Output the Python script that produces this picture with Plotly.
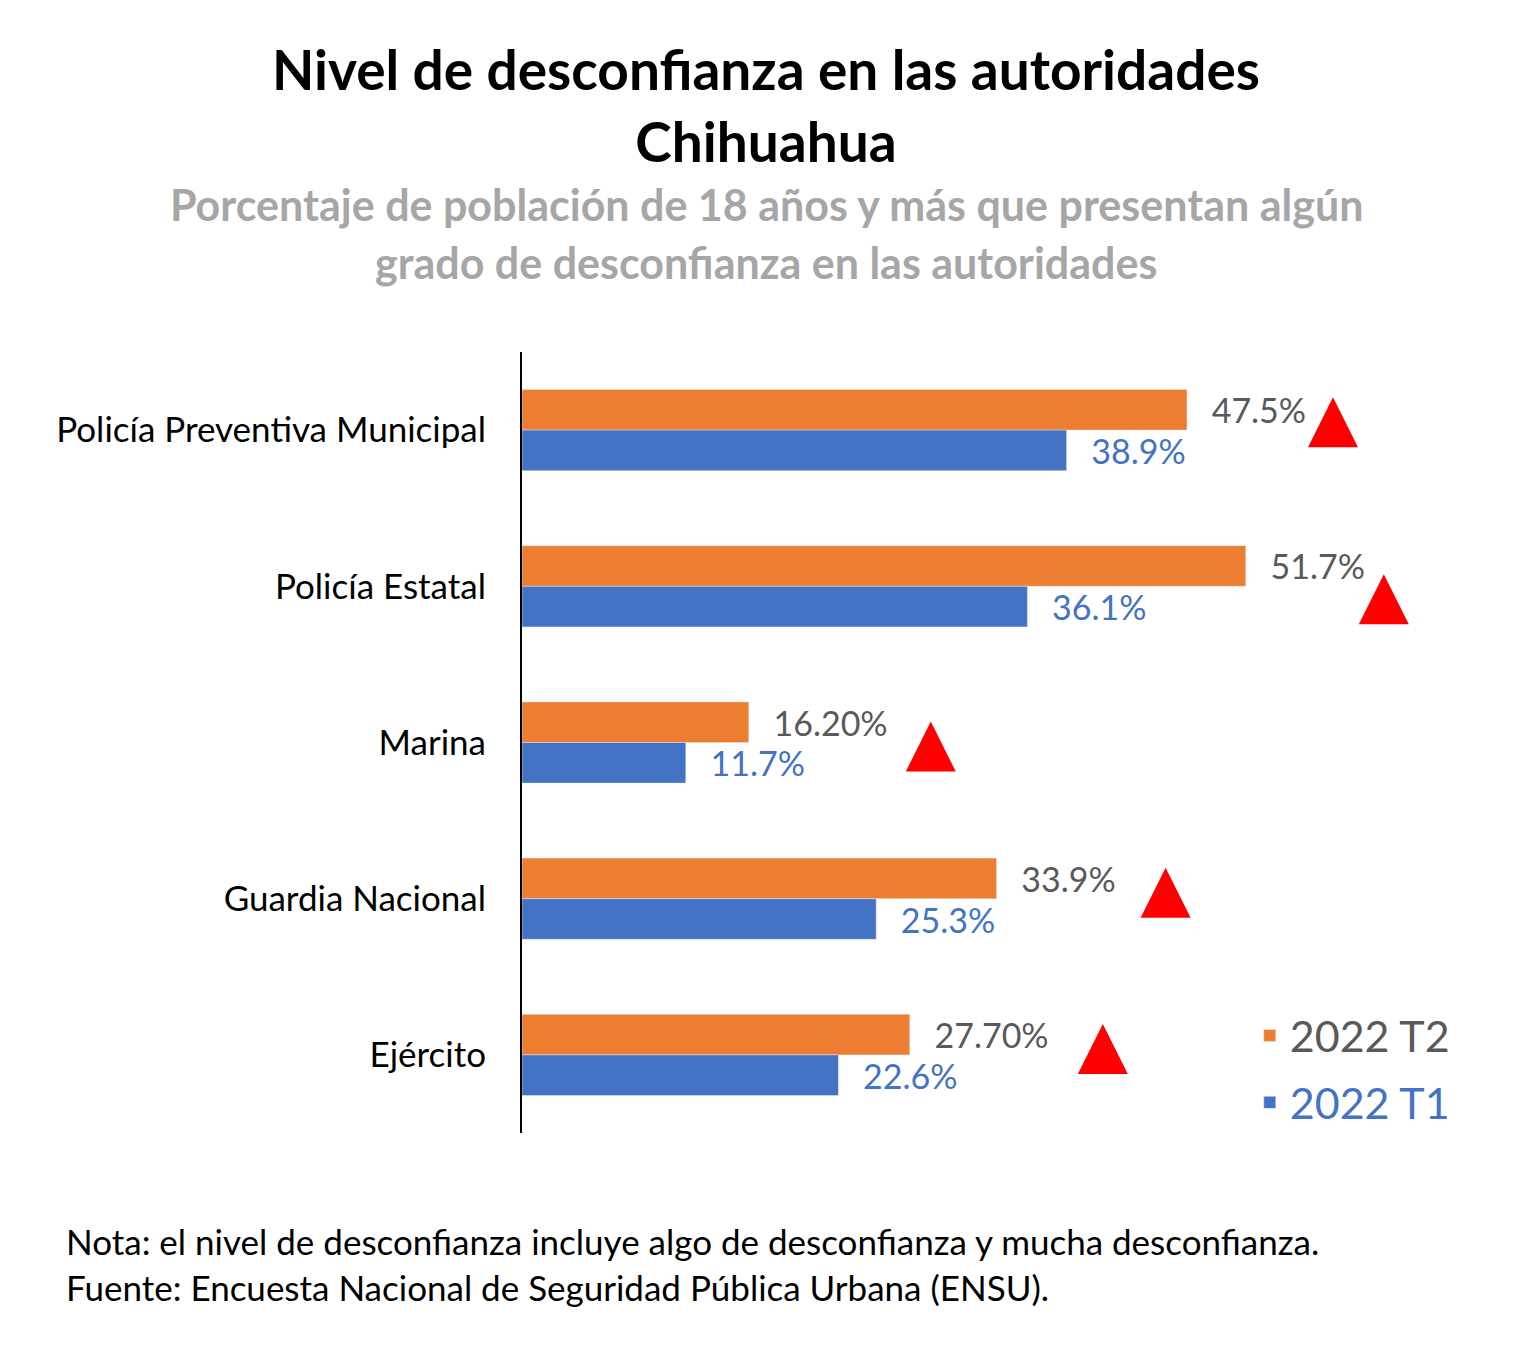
import plotly.graph_objects as go

# ---- data ----
categories = ["Policía Preventiva Municipal", "Policía Estatal", "Marina",
              "Guardia Nacional", "Ejército"]
t2_values = [47.5, 51.7, 16.2, 33.9, 27.7]
t1_values = [38.9, 36.1, 11.7, 25.3, 22.6]
t2_labels = ["47.5%", "51.7%", "16.20%", "33.9%", "27.70%"]
t1_labels = ["38.9%", "36.1%", "11.7%", "25.3%", "22.6%"]
series_names = ["2022 T2", "2022 T1"]

# ---- layout constants (figure pixels; page body adds an 8px offset) ----
W, H = 1532, 1359
ML, MR, MT = 514, 10, 344
PLOT_BOTTOM = 1125
MB = H - PLOT_BOTTOM
PLOT_W = W - ML - MR
PLOT_H = H - MT - MB
PX_PER_UNIT = 14.0
XMAX = PLOT_W / PX_PER_UNIT

ORANGE = "#ED7D31"
BLUE = "#4472C4"
GRAY = "#595959"
FONT = "Lato"

ypos = list(range(len(categories)))
pad = "\u00a0\u00a0\u2009"

# triangle placement (pixel offset from the T2 bar end; tip offset from row centre)
tri_px = [146, 138, 182, 169, 193]
tri_dy = [-0.21, -0.077, -0.134, -0.198, -0.198]
tri_x = [v + p / PX_PER_UNIT for v, p in zip(t2_values, tri_px)]
tri_y = [y + d for y, d in zip(ypos, tri_dy)]


def px_x(px):
    return (px - ML) / PLOT_W


def px_y(py):
    return (PLOT_BOTTOM - py) / PLOT_H


fig = go.Figure()
fig.add_trace(go.Bar(
    y=ypos, x=t2_values, orientation="h",
    name=f"<span style='color:{GRAY}'>{series_names[0]}</span>",
    marker_color=ORANGE, text=[pad + t for t in t2_labels], textposition="outside",
    textfont=dict(size=34, color=GRAY, family=FONT), constraintext="none",
    cliponaxis=False, legendgroup="a", hoverinfo="x+y"))
fig.add_trace(go.Bar(
    y=ypos, x=t1_values, orientation="h",
    name=f"<span style='color:{BLUE}'>{series_names[1]}</span>",
    marker_color=BLUE, text=[pad + t for t in t1_labels], textposition="outside",
    textfont=dict(size=34, color=BLUE, family=FONT), constraintext="none",
    cliponaxis=False, legendgroup="b", hoverinfo="x+y"))
fig.add_trace(go.Scatter(
    x=tri_x, y=tri_y, mode="markers", showlegend=False, cliponaxis=False,
    marker=dict(symbol="arrow-up", size=50, color="#FF0000", line=dict(width=0)),
    hoverinfo="skip"))

fig.update_layout(
    width=W, height=H,
    margin=dict(l=ML, r=MR, t=MT, b=MB),
    paper_bgcolor="white", plot_bgcolor="white",
    barmode="group", bargap=0.48, bargroupgap=0,
    font=dict(family=FONT, color="black"),
    title=dict(
        text="<b>Nivel de desconfianza en las autoridades</b><br><b>Chihuahua</b>",
        x=758 / W, xref="container", xanchor="center",
        y=1 - 82 / H, yref="container", yanchor="top",
        font=dict(size=55, color="black", family=FONT)),
    xaxis=dict(range=[0, XMAX], visible=False, fixedrange=True),
    yaxis=dict(tickmode="array", tickvals=ypos, ticktext=categories,
               range=[len(categories) - 0.5, -0.5],
               showline=True, linecolor="black", linewidth=2,
               showgrid=False, zeroline=False, ticks="",
               ticklabelstandoff=27,
               tickfont=dict(size=35, color="black", family=FONT)),
    legend=dict(x=0.722, y=0.169, xanchor="left", yanchor="top",
                xref="paper", yref="paper",
                font=dict(size=43, family=FONT),
                traceorder="grouped", tracegroupgap=8,
                bgcolor="rgba(0,0,0,0)"),
    showlegend=True,
)

sub_color = "#A6A6A6"
fig.add_annotation(text="<b>Porcentaje de población de 18 años y más que presentan algún</b>",
                   xref="paper", yref="paper", x=px_x(758), y=px_y(197),
                   xanchor="center", yanchor="middle", showarrow=False,
                   font=dict(size=43, color=sub_color, family=FONT))
fig.add_annotation(text="<b>grado de desconfianza en las autoridades</b>",
                   xref="paper", yref="paper", x=px_x(758), y=px_y(254),
                   xanchor="center", yanchor="middle", showarrow=False,
                   font=dict(size=43, color=sub_color, family=FONT))
fig.add_annotation(text="Nota: el nivel de desconfianza incluye algo de desconfianza y mucha desconfianza.",
                   xref="paper", yref="paper", x=px_x(56), y=px_y(1233),
                   xanchor="left", yanchor="middle", showarrow=False,
                   font=dict(size=35, color="black", family=FONT))
fig.add_annotation(text="Fuente: Encuesta Nacional de Seguridad Pública Urbana (ENSU).",
                   xref="paper", yref="paper", x=px_x(56), y=px_y(1279),
                   xanchor="left", yanchor="middle", showarrow=False,
                   font=dict(size=35, color="black", family=FONT))

fig.write_html("out.html")
